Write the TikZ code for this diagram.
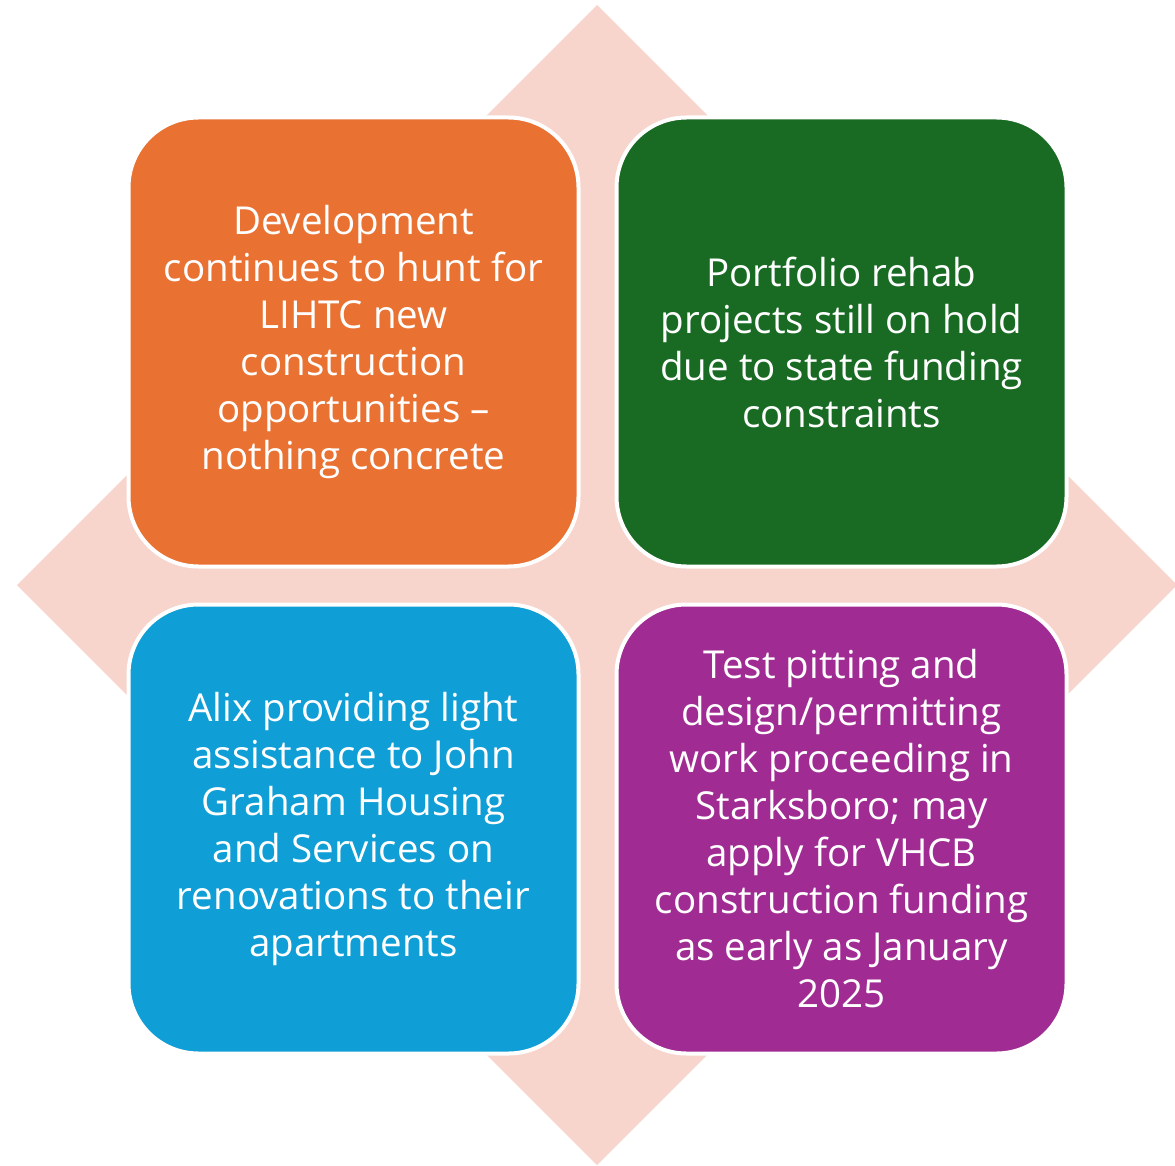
\documentclass[tikz,border=0pt]{standalone}
\usepackage{fontspec}
\setmainfont{Open Sans}
\begin{document}
\begin{tikzpicture}[x=1pt,y=-1pt,
  quad/.style={draw=white,line width=4pt,rounded corners=70pt,minimum width=450pt,minimum height=449pt,inner sep=0pt,text=white,align=center,font=\fontsize{38.5}{47}\selectfont}]
\definecolor{diam}{HTML}{F7D5CC}
\definecolor{qorange}{HTML}{E97132}
\definecolor{qgreen}{HTML}{196B24}
\definecolor{qblue}{HTML}{0F9ED5}
\definecolor{qpurple}{HTML}{A02B93}
\useasboundingbox (0,0) rectangle (1175,1166);
\fill[diam] (597,5) -- (1177,585) -- (597,1165) -- (17,585) -- cycle;
\node[quad,fill=qorange] (q1) at (353.5,342) {Development\\continues to hunt for\\LIHTC new\\construction\\opportunities –\\nothing concrete};
\node[quad,fill=qgreen] (q2) at (841.5,342) {Portfolio rehab\\projects still on hold\\due to state funding\\constraints};
\node[quad,fill=qblue] (q3) at (353.5,829) {Alix providing light\\assistance to John\\Graham Housing\\and Services on\\renovations to their\\apartments};
\node[quad,fill=qpurple] (q4) at (841.5,829) {Test pitting and\\design/permitting\\work proceeding in\\Starksboro; may\\apply for VHCB\\construction funding\\as early as January\\2025};
\end{tikzpicture}
\end{document}
